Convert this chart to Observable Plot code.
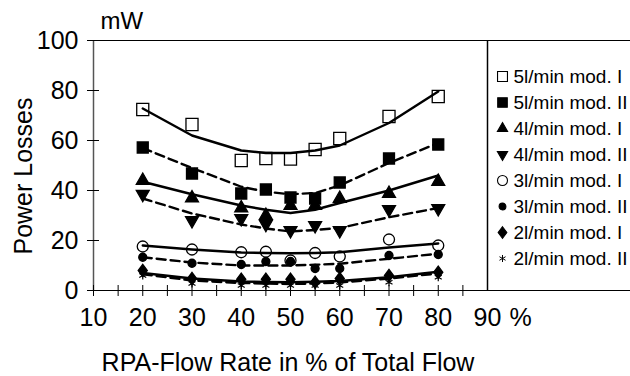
<!DOCTYPE html>
<html>
<head>
<meta charset="utf-8">
<script src="https://cdn.jsdelivr.net/npm/d3@7"></script>
<script src="https://cdn.jsdelivr.net/npm/@observablehq/plot@0.6"></script>
<style>
  html, body { margin: 0; padding: 0; background: #fff; overflow: hidden; }
  #wrap { position: relative; width: 630px; height: 376px; font-family: "Liberation Sans", Arial, sans-serif; }
  #chart { position: absolute; left: 0; top: 0; }
  #legend { position: absolute; left: 487px; top: 40px; width: 150px; height: 250px; }
  #legbox { position: absolute; left: 487px; top: 40px; width: 150px; height: 251px; border-top: 1px solid #000; border-bottom: 1px solid #000; box-sizing: border-box; }
</style>
</head>
<body>
<div id="wrap"><div id="legbox"></div><div id="chart"></div><div id="legend"></div></div>
<script>
// ---- data ----
const flowRates = [20, 30, 40, 45, 50, 55, 60, 70, 80];
const seriesNames = ["5l/min mod. I", "5l/min mod. II", "4l/min mod. I", "4l/min mod. II",
                     "3l/min mod. I", "3l/min mod. II", "2l/min mod. I", "2l/min mod. II"];
const m5I   = [72.4, 66.4, 52.0, 52.8, 52.6, 56.4, 60.8, 69.6, 77.6];
const m5II  = [57.2, 46.8, 38.8, 40.4, 37.2, 36.8, 43.2, 52.8, 58.4];
const m4I   = [44.0, 37.0, 33.0, 30.0, 34.0, 34.0, 36.8, 38.8, 43.6];
const m4II  = [38.5, 28.0, 28.8, 26.5, 24.0, 26.0, 24.0, 32.4, 32.8];
const m3I   = [17.6, 16.4, 15.3, 15.5, 12.0, 15.0, 13.6, 20.4, 18.0];
const m3II  = [13.3, 10.9, 10.4, 11.6, 11.6, 8.8, 8.8, 14.0, 14.4];
const m2I   = [8.0, 4.8, 4.5, 4.5, 4.5, 3.3, 4.8, 6.0, 7.3];
const m2II  = [6.0, 2.8, 2.0, 2.0, 2.0, 2.0, 2.0, 3.3, 5.3];
// fitted trend curves
const fit5I  = [72.8, 62.0, 56.0, 55.0, 55.0, 56.0, 58.0, 67.0, 79.6];
const fit5II = [57.0, 49.0, 41.5, 39.5, 38.5, 39.0, 42.0, 51.0, 59.0];
const fit4I  = [43.5, 38.5, 34.0, 32.3, 31.0, 32.3, 35.0, 40.0, 46.0];
const fit4II = [36.8, 30.8, 26.4, 24.8, 23.6, 24.2, 25.0, 29.3, 33.0];
const fit3I  = [18.0, 16.4, 15.2, 15.0, 14.9, 15.0, 15.3, 17.2, 18.8];
const fit3II = [13.3, 11.2, 10.0, 10.0, 10.0, 10.3, 10.7, 12.7, 14.7];
const fit2I  = [7.0, 4.8, 3.6, 3.4, 3.3, 3.5, 3.8, 5.3, 7.5];
const fit2II = [6.5, 4.0, 3.0, 2.8, 2.6, 2.8, 3.2, 4.8, 6.8];
const xDomain = [10, 90];
const yDomain = [0, 100];
const xLabelTicks = [10, 20, 30, 40, 50, 60, 70, 80, 90];
const xMinorTicks = [10, 15, 20, 25, 30, 35, 40, 45, 50, 55, 60, 65, 70, 75, 80, 85];
const yTicks = [0, 20, 40, 60, 80, 100];
const xTitle = "RPA-Flow Rate in % of Total Flow";
const yTitle = "Power Losses";
const yUnit = "mW";
const xUnit = "%";

// ---- styles ----
const triangleDown = {
  draw(context, size) {
    const s3 = Math.sqrt(3);
    const y = -Math.sqrt(size / (s3 * 3));
    context.moveTo(0, -y * 2);
    context.lineTo(-s3 * y, y);
    context.lineTo(s3 * y, y);
    context.closePath();
  }
};
const diamondWide = {
  draw(context, size) {
    const h = Math.sqrt(size / 1.5), w = 0.75 * h;
    context.moveTo(0, -h);
    context.lineTo(w, 0);
    context.lineTo(0, h);
    context.lineTo(-w, 0);
    context.closePath();
  }
};
const measured = [m5I, m5II, m4I, m4II, m3I, m3II, m2I, m2II];
const fits = [fit5I, fit5II, fit4I, fit4II, fit3I, fit3II, fit2I, fit2II];
const styles = [
  {symbol: "square", fill: "white", r: 6.8, lr: 5.6, dash: null},
  {symbol: "square", fill: "black", r: 6.2, lr: 5.4, dash: "9,5"},
  {symbol: "triangle", fill: "black", r: 4.8, lr: 3.8, dash: null},
  {symbol: triangleDown, fill: "black", r: 4.8, lr: 3.8, dash: "9,5"},
  {symbol: "circle", fill: "white", r: 5.5, lr: 5, dash: null},
  {symbol: "circle", fill: "black", r: 4, lr: 3.4, dash: "9,5"},
  {symbol: diamondWide, fill: "black", r: 4.2, lr: 4.0, dash: null},
  {symbol: "asterisk", fill: "none", r: 3.8, lr: 3.3, dash: "9,5"}
];
const font = "'Liberation Sans', Arial, sans-serif";

const marks = [];
// frame lines
marks.push(Plot.ruleX([xDomain[0]], {stroke: "#555", strokeWidth: 1.5}));
marks.push(Plot.ruleY([yDomain[1]], {stroke: "#000"}));
marks.push(Plot.ruleY([yDomain[0]], {stroke: "#000"}));
marks.push(Plot.ruleX([xDomain[1]], {stroke: "#000", strokeWidth: 1.5}));
// tick marks crossing the axes
marks.push(Plot.ruleY(yTicks, {x1: xDomain[0], x2: xDomain[0], insetLeft: -6, insetRight: -6, stroke: "#000"}));
marks.push(Plot.ruleX(xMinorTicks, {y1: yDomain[0], y2: yDomain[0], insetTop: -5, insetBottom: -6, stroke: "#000"}));
// markers
measured.forEach((vals, i) => {
  const st = styles[i];
  const data = flowRates.map((x, j) => ({x, y: vals[j]}));
  marks.push(Plot.dot(data, {
    x: "x", y: "y", symbol: st.symbol, r: st.r,
    fill: st.fill, stroke: "black", strokeWidth: st.symbol === "asterisk" ? 1.2 : 1.3
  }));
});
// fitted curves
fits.forEach((vals, i) => {
  const st = styles[i];
  const data = flowRates.map((x, j) => ({x, y: vals[j]}));
  marks.push(Plot.line(data, {
    x: "x", y: "y", stroke: "black", strokeWidth: 2.4,
    strokeDasharray: st.dash ?? undefined
  }));
});
// axes
marks.push(Plot.axisY({ticks: yTicks, tickSize: 0, tickPadding: 15, label: null, fontSize: 25}));
marks.push(Plot.axisX({ticks: xLabelTicks, tickSize: 0, tickPadding: 18, label: null, fontSize: 25}));
// texts
marks.push(Plot.text([xUnit], {frameAnchor: "bottom-right", textAnchor: "start", lineAnchor: "top", dx: 22, dy: 18, fontSize: 25}));
marks.push(Plot.text([yUnit], {frameAnchor: "top-left", textAnchor: "start", lineAnchor: "middle", dx: 7, dy: -19.5, fontSize: 24}));
marks.push(Plot.text([xTitle], {frameAnchor: "bottom", textAnchor: "middle", lineAnchor: "middle", dx: -2.5, dy: 72, fontSize: 25}));
marks.push(Plot.text([yTitle], {frameAnchor: "left", textAnchor: "middle", rotate: -90, lineAnchor: "middle", dx: -70, dy: 10.5, fontSize: 25}));

const chart = Plot.plot({
  width: 630, height: 376,
  marginLeft: 93, marginRight: 143, marginTop: 40, marginBottom: 86,
  x: {domain: xDomain, axis: null},
  y: {domain: yDomain, axis: null},
  style: {fontFamily: font, fontSize: "25px", background: "transparent", color: "#000"},
  marks
});
document.getElementById("chart").appendChild(chart);

// legend
const legMarks = [];
seriesNames.forEach((name, i) => {
  const st = styles[i];
  legMarks.push(Plot.dot([name], {y: d => d, frameAnchor: "left", dx: 15, symbol: st.symbol, r: st.lr,
    fill: st.fill, stroke: "black", strokeWidth: st.symbol === "asterisk" ? 1 : 1.1}));
});
legMarks.push(Plot.text(seriesNames, {y: d => d, frameAnchor: "left", dx: 26, textAnchor: "start", lineAnchor: "middle", fontSize: 19}));
const legend = Plot.plot({
  width: 150, height: 250,
  marginLeft: 0, marginRight: 0, marginTop: 0, marginBottom: 0,
  y: {type: "point", domain: seriesNames, range: [34, 219], padding: 0, axis: null},
  style: {fontFamily: font, background: "transparent", color: "#000"},
  marks: legMarks
});
document.getElementById("legend").appendChild(legend);
</script>
</body>
</html>
